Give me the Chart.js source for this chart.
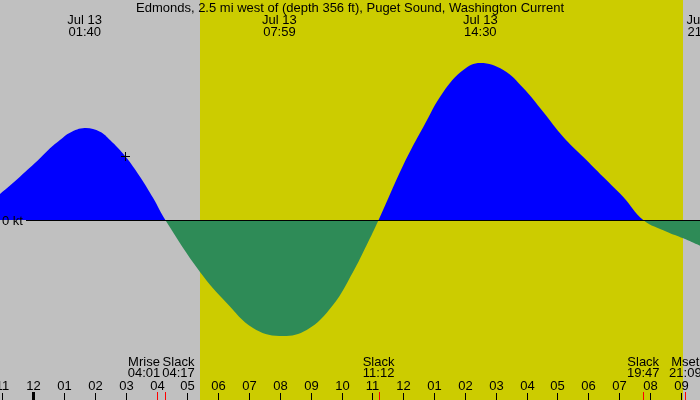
<!DOCTYPE html>
<html>
<head>
<meta charset="utf-8">
<script src="https://cdn.jsdelivr.net/npm/chart.js@4/dist/chart.umd.min.js"></script>
<style>
html,body{margin:0;padding:0;background:#c0c0c0;}
#wrap{width:700px;height:400px;position:relative;}
</style>
</head>
<body>
<div id="wrap"><canvas id="c" width="700" height="400"></canvas></div>
<script>
// ---- data (times in hours from midnight Jul 13, speeds in kt) ----
const titleText = 'Edmonds, 2.5 mi west of (depth 356 ft), Puget Sound, Washington Current';
const times  = [-1.08, -0.432, 0.217, 0.542, 0.866, 1.19, 1.667, 2.163, 2.488, 2.974, 3.461, 3.892, 4.283, 5.407, 6.273, 7.126, 7.983, 8.868, 9.721, 10.37, 10.814, 11.2, 12.001, 12.65, 13.299, 13.947, 14.5, 15.245, 15.893, 16.542, 17.191, 17.84, 18.488, 19.137, 19.783, 20.545, 21.083, 21.625];
const speeds = [0.26, 0.433, 0.617, 0.717, 0.80, 0.873, 0.92, 0.883, 0.80, 0.64, 0.433, 0.217, 0, -0.52, -0.83, -1.08, -1.16, -1.10, -0.85, -0.52, -0.25, 0, 0.55, 0.93, 1.28, 1.50, 1.57, 1.50, 1.32, 1.08, 0.83, 0.63, 0.43, 0.23, 0, -0.117, -0.183, -0.257];
const maxTimes  = [1.667, 7.983, 14.5, 21.75];
const maxDates  = ['Jul 13', 'Jul 13', 'Jul 13', 'Jul 13'];
const maxLabels = ['01:40', '07:59', '14:30', '21:45'];
const eventTimes  = [4.017, 4.283, 11.2, 19.783, 21.15];
const eventNames  = ['Mrise', 'Slack', 'Slack', 'Slack', 'Mset'];
const eventLabels = ['04:01', '04:17', '11:12', '19:47', '21:09'];
const dayStart = [5.407];
const dayEnd   = [21.063];
const hourTickValues = [-1,0,1,2,3,4,5,6,7,8,9,10,11,12,13,14,15,16,17,18,19,20,21];
const hourTickLabels = ['11','12','01','02','03','04','05','06','07','08','09','10','11','12','01','02','03','04','05','06','07','08','09'];
const nowTime  = [2.99];
const nowSpeed = [0.635];
const zeroLabel = '0 kt';
const xRange = [-1.0801, 21.625];
const yRange = [-1.8, 2.2];

const FONT = '13px "Liberation Sans", Arial, sans-serif';

const bgPlugin = {
  id: 'bg',
  beforeDraw(chart) {
    const ctx = chart.ctx, x = chart.scales.x;
    ctx.save();
    ctx.fillStyle = '#c0c0c0';
    ctx.fillRect(0, 0, chart.width, chart.height);
    ctx.fillStyle = '#cccc00';
    for (let i = 0; i < dayStart.length; i++) {
      const a = x.getPixelForValue(dayStart[i]), b = x.getPixelForValue(dayEnd[i]);
      ctx.fillRect(Math.round(a), 0, Math.round(b) - Math.round(a), chart.height);
    }
    ctx.restore();
  }
};

const decoPlugin = {
  id: 'deco',
  afterDatasetsDraw(chart) {
    const ctx = chart.ctx, x = chart.scales.x, y = chart.scales.y;
    ctx.save();
    // zero line
    const y0 = Math.round(y.getPixelForValue(0)) + 0.5;
    ctx.strokeStyle = '#000';
    ctx.lineWidth = 1;
    ctx.beginPath();
    ctx.moveTo(26, y0); ctx.lineTo(chart.width, y0);
    ctx.stroke();
    ctx.font = FONT;
    ctx.fillStyle = '#000';
    ctx.textBaseline = 'alphabetic';
    ctx.textAlign = 'left';
    ctx.fillText(zeroLabel, 2, y0 + 4.5);

    // title
    ctx.textAlign = 'center';
    ctx.fillText(titleText, chart.width / 2, 12);

    // max/min labels
    for (let i = 0; i < maxTimes.length; i++) {
      const px = x.getPixelForValue(maxTimes[i]);
      ctx.fillText(maxDates[i], px, 24);
      ctx.fillText(maxLabels[i], px, 36);
    }

    // hour ticks
    for (let i = 0; i < hourTickValues.length; i++) {
      const px = Math.round(x.getPixelForValue(hourTickValues[i]));
      const isMidnight = hourTickValues[i] % 24 === 0;
      ctx.fillStyle = '#000';
      if (isMidnight) ctx.fillRect(px - 1, 392, 3, 8);
      else ctx.fillRect(px, 393, 1, 7);
      ctx.fillText(hourTickLabels[i], px + 0.5, 390);
    }

    // event ticks and labels (spread overlapping labels)
    const pos = eventTimes.map(t => x.getPixelForValue(t));
    const widths = eventNames.map((n, i) => Math.max(ctx.measureText(n).width, ctx.measureText(eventLabels[i]).width));
    const centers = pos.slice();
    for (let i = 1; i < centers.length; i++) {
      const need = (widths[i - 1] + widths[i]) / 2 + 2;
      if (centers[i] - centers[i - 1] < need) {
        const mid = (centers[i] + centers[i - 1]) / 2;
        centers[i - 1] = mid - need / 2;
        centers[i] = mid + need / 2;
      }
    }
    for (let i = 0; i < pos.length; i++) {
      ctx.fillStyle = '#ff0000';
      ctx.fillRect(Math.round(pos[i]), 392, 1, 8);
      ctx.fillStyle = '#000';
      ctx.fillText(eventNames[i], centers[i], 366);
      ctx.fillText(eventLabels[i], centers[i], 377);
    }
    ctx.restore();
  }
};

new Chart(document.getElementById('c'), {
  type: 'line',
  data: {
    datasets: [
      {
        order: 1,
        data: times.map((t, i) => ({x: t, y: speeds[i]})),
        borderWidth: 0,
        borderColor: 'rgba(0,0,0,0)',
        pointRadius: 0,
        tension: 0.4,
        fill: {target: 'origin', above: '#0000ff', below: '#2e8b57'}
      },
      {
        order: 0,
        data: nowTime.map((t, i) => ({x: t, y: nowSpeed[i]})),
        showLine: false,
        fill: false,
        pointStyle: 'cross',
        pointRadius: 4.5,
        pointBorderColor: '#000',
        pointBorderWidth: 1,
        borderColor: '#000'
      }
    ]
  },
  options: {
    responsive: false,
    animation: false,
    events: [],
    layout: {padding: 0, autoPadding: false},
    plugins: {legend: {display: false}, tooltip: {enabled: false}, title: {display: false}},
    scales: {
      x: {type: 'linear', min: xRange[0], max: xRange[1], display: false},
      y: {type: 'linear', min: yRange[0], max: yRange[1], display: false}
    }
  },
  plugins: [bgPlugin, decoPlugin]
});
</script>
</body>
</html>
